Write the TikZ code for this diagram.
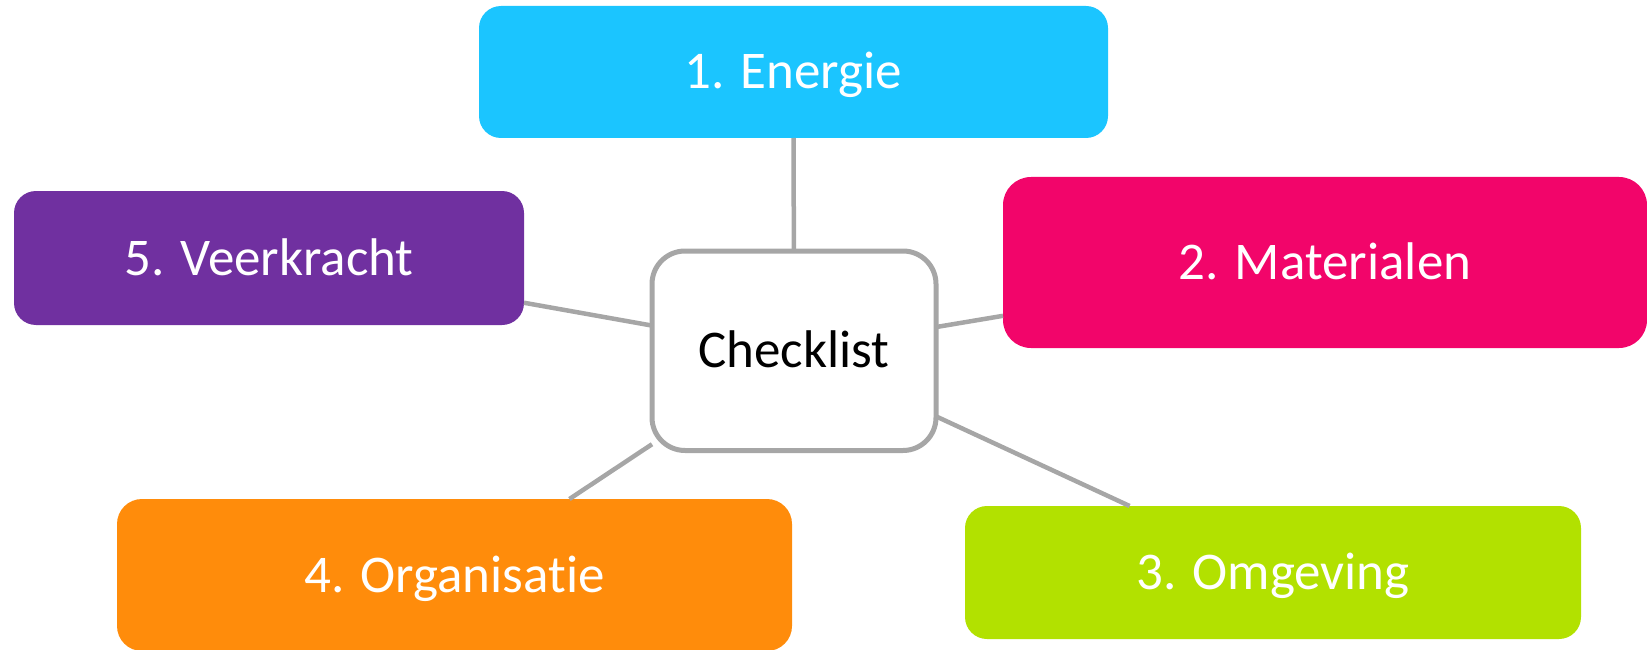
\documentclass[tikz,border=0pt]{standalone}
\usepackage{fontspec}
\setmainfont[Ligatures={NoCommon}]{Carlito}
\definecolor{cEnergie}{HTML}{1BC5FF}
\definecolor{cMat}{HTML}{F2056A}
\definecolor{cVeer}{HTML}{7030A0}
\definecolor{cOrg}{HTML}{FF8C0B}
\definecolor{cOmg}{HTML}{B2E100}
\definecolor{cLine}{HTML}{A6A6A6}
\begin{document}
\begin{tikzpicture}[x=1pt,y=-1pt,
  catbox/.style={rectangle, inner sep=0pt, outer sep=0pt, text=white,
    font=\fontsize{53}{60}\selectfont, text height=34pt, text depth=0pt},
  hubbox/.style={catbox, text=black, fill=white, draw=cLine, line width=5pt},
  link/.style={draw=cLine, line width=4.5pt}]
\useasboundingbox (0,0) rectangle (1647,650);
\node[catbox, fill=cEnergie, rounded corners=22pt, minimum width=629pt, minimum height=132pt] (energie) at (793.5,72) {1. Energie};
\node[catbox, fill=cMat, rounded corners=28pt, minimum width=644pt, minimum height=171pt] (mat) at (1325,262.5) {2. Materialen};
\node[catbox, fill=cOmg, rounded corners=22pt, minimum width=616pt, minimum height=133pt] (omg) at (1273,572.5) {3. Omgeving};
\node[catbox, fill=cOrg, rounded corners=25pt, minimum width=675pt, minimum height=152pt] (org) at (454.5,575) {4. Organisatie};
\node[catbox, fill=cVeer, rounded corners=22pt, minimum width=510pt, minimum height=134pt] (veer) at (269,258) {5. Veerkracht};
\node[hubbox, rounded corners=33pt, minimum width=284pt, minimum height=199.5pt] (check) at (794,350.75) {Checklist};
\draw[link] (check) -- (energie);
\draw[link] (check) -- (mat);
\draw[link] (check) -- (omg);
\draw[link] (check) -- (org);
\draw[link] (check) -- (veer);
\end{tikzpicture}
\end{document}
